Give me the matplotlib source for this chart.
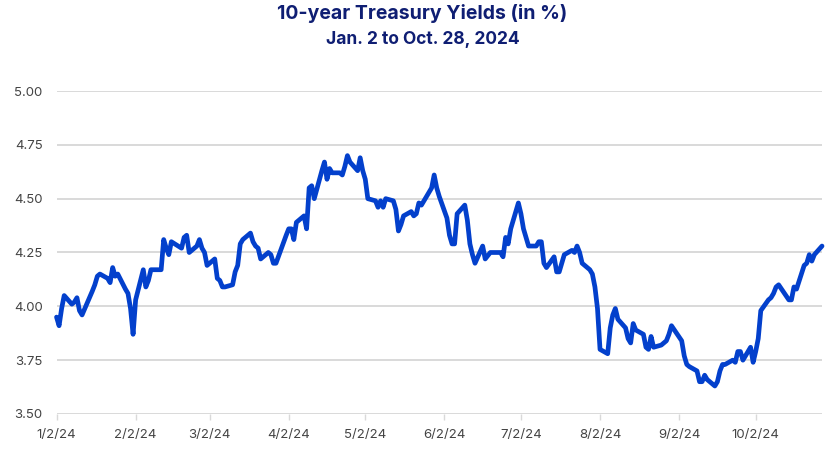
import numpy as np
import matplotlib
import matplotlib.pyplot as plt

matplotlib.use('Agg')

# ── Data: 10-year Treasury yield, trading days 2024 ─────────────────────────
dates = [
    '2024-01-02', '2024-01-03', '2024-01-04', '2024-01-05', '2024-01-08', '2024-01-09',
    '2024-01-10', '2024-01-11', '2024-01-12', '2024-01-16', '2024-01-17', '2024-01-18',
    '2024-01-19', '2024-01-22', '2024-01-23', '2024-01-24', '2024-01-25', '2024-01-26',
    '2024-01-29', '2024-01-30', '2024-01-31', '2024-02-01', '2024-02-02', '2024-02-05',
    '2024-02-06', '2024-02-07', '2024-02-08', '2024-02-09', '2024-02-12', '2024-02-13',
    '2024-02-14', '2024-02-15', '2024-02-16', '2024-02-20', '2024-02-21', '2024-02-22',
    '2024-02-23', '2024-02-26', '2024-02-27', '2024-02-28', '2024-02-29', '2024-03-01',
    '2024-03-04', '2024-03-05', '2024-03-06', '2024-03-07', '2024-03-08', '2024-03-11',
    '2024-03-12', '2024-03-13', '2024-03-14', '2024-03-15', '2024-03-18', '2024-03-19',
    '2024-03-20', '2024-03-21', '2024-03-22', '2024-03-25', '2024-03-26', '2024-03-27',
    '2024-03-28', '2024-04-01', '2024-04-02', '2024-04-03', '2024-04-04', '2024-04-05',
    '2024-04-08', '2024-04-09', '2024-04-10', '2024-04-11', '2024-04-12', '2024-04-15',
    '2024-04-16', '2024-04-17', '2024-04-18', '2024-04-19', '2024-04-22', '2024-04-23',
    '2024-04-24', '2024-04-25', '2024-04-26', '2024-04-29', '2024-04-30', '2024-05-01',
    '2024-05-02', '2024-05-03', '2024-05-06', '2024-05-07', '2024-05-08', '2024-05-09',
    '2024-05-10', '2024-05-13', '2024-05-14', '2024-05-15', '2024-05-16', '2024-05-17',
    '2024-05-20', '2024-05-21', '2024-05-22', '2024-05-23', '2024-05-24', '2024-05-28',
    '2024-05-29', '2024-05-30', '2024-05-31', '2024-06-03', '2024-06-04', '2024-06-05',
    '2024-06-06', '2024-06-07', '2024-06-10', '2024-06-11', '2024-06-12', '2024-06-13',
    '2024-06-14', '2024-06-17', '2024-06-18', '2024-06-20', '2024-06-21', '2024-06-24',
    '2024-06-25', '2024-06-26', '2024-06-27', '2024-06-28', '2024-07-01', '2024-07-02',
    '2024-07-03', '2024-07-05', '2024-07-08', '2024-07-09', '2024-07-10', '2024-07-11',
    '2024-07-12', '2024-07-15', '2024-07-16', '2024-07-17', '2024-07-18', '2024-07-19',
    '2024-07-22', '2024-07-23', '2024-07-24', '2024-07-25', '2024-07-26', '2024-07-29',
    '2024-07-30', '2024-07-31', '2024-08-01', '2024-08-02', '2024-08-05', '2024-08-06',
    '2024-08-07', '2024-08-08', '2024-08-09', '2024-08-12', '2024-08-13', '2024-08-14',
    '2024-08-15', '2024-08-16', '2024-08-19', '2024-08-20', '2024-08-21', '2024-08-22',
    '2024-08-23', '2024-08-26', '2024-08-27', '2024-08-28', '2024-08-29', '2024-08-30',
    '2024-09-03', '2024-09-04', '2024-09-05', '2024-09-06', '2024-09-09', '2024-09-10',
    '2024-09-11', '2024-09-12', '2024-09-13', '2024-09-16', '2024-09-17', '2024-09-18',
    '2024-09-19', '2024-09-20', '2024-09-23', '2024-09-24', '2024-09-25', '2024-09-26',
    '2024-09-27', '2024-09-30', '2024-10-01', '2024-10-02', '2024-10-03', '2024-10-04',
    '2024-10-07', '2024-10-08', '2024-10-09', '2024-10-10', '2024-10-11', '2024-10-15',
    '2024-10-16', '2024-10-17', '2024-10-18', '2024-10-21', '2024-10-22', '2024-10-23',
    '2024-10-24', '2024-10-25', '2024-10-28',
]
yields = [
    3.95, 3.91, 3.99, 4.05, 4.01, 4.02,
    4.04, 3.98, 3.96, 4.07, 4.10, 4.14,
    4.15, 4.13, 4.11, 4.18, 4.14, 4.15,
    4.08, 4.06, 3.99, 3.87, 4.03, 4.17,
    4.09, 4.12, 4.17, 4.17, 4.17, 4.31,
    4.27, 4.24, 4.30, 4.27, 4.32, 4.33,
    4.25, 4.28, 4.31, 4.27, 4.25, 4.19,
    4.22, 4.13, 4.12, 4.09, 4.09, 4.10,
    4.16, 4.19, 4.29, 4.31, 4.34, 4.30,
    4.28, 4.27, 4.22, 4.25, 4.24, 4.20,
    4.20, 4.33, 4.36, 4.36, 4.31, 4.39,
    4.42, 4.36, 4.55, 4.56, 4.50, 4.63,
    4.67, 4.59, 4.64, 4.62, 4.62, 4.61,
    4.65, 4.70, 4.67, 4.63, 4.69, 4.63,
    4.59, 4.50, 4.49, 4.46, 4.49, 4.46,
    4.50, 4.49, 4.45, 4.35, 4.38, 4.42,
    4.44, 4.42, 4.43, 4.48, 4.47, 4.55,
    4.61, 4.55, 4.51, 4.41, 4.33, 4.29,
    4.29, 4.43, 4.47, 4.40, 4.29, 4.24,
    4.20, 4.28, 4.22, 4.25, 4.25, 4.25,
    4.23, 4.32, 4.29, 4.36, 4.48, 4.43,
    4.36, 4.28, 4.28, 4.30, 4.30, 4.20,
    4.18, 4.23, 4.16, 4.16, 4.20, 4.24,
    4.26, 4.25, 4.28, 4.25, 4.20, 4.17,
    4.15, 4.09, 3.99, 3.80, 3.78, 3.90,
    3.96, 3.99, 3.94, 3.90, 3.85, 3.83,
    3.92, 3.89, 3.87, 3.81, 3.80, 3.86,
    3.81, 3.82, 3.83, 3.84, 3.87, 3.91,
    3.84, 3.77, 3.73, 3.72, 3.70, 3.65,
    3.65, 3.68, 3.66, 3.63, 3.65, 3.70,
    3.73, 3.73, 3.75, 3.74, 3.79, 3.79,
    3.75, 3.81, 3.74, 3.79, 3.85, 3.98,
    4.03, 4.04, 4.06, 4.09, 4.10, 4.03,
    4.03, 4.09, 4.08, 4.19, 4.20, 4.24,
    4.21, 4.24, 4.28,
]
tick_dates = ['2024-01-02', '2024-02-02', '2024-03-02', '2024-04-02', '2024-05-02',
              '2024-06-02', '2024-07-02', '2024-08-02', '2024-09-02', '2024-10-02']
tick_labels = ['1/2/24', '2/2/24', '3/2/24', '4/2/24', '5/2/24',
               '6/2/24', '7/2/24', '8/2/24', '9/2/24', '10/2/24']
y_ticks = [3.50, 3.75, 4.00, 4.25, 4.50, 4.75, 5.00]

# ── Style ───────────────────────────────────────────────────────────────────
LINE = '#0340CC'
NAVY = '#0F1E73'
GRID = '#D9D9D9'
TICK = '#444444'
plt.rcParams['font.family'] = ['Inter', 'DejaVu Sans']

x = np.array(dates, dtype='datetime64[D]')
xt = np.array(tick_dates, dtype='datetime64[D]')

fig = plt.figure(figsize=(8.4, 4.72), dpi=100)
ax = fig.add_axes([0.0673, 0.1229, 0.9113, 0.6843])

ax.plot(x, yields, color=LINE, linewidth=3.4, solid_joinstyle='round',
        solid_capstyle='round', zorder=3, clip_on=False)

ax.set_xlim(x[0], np.datetime64('2024-10-28'))
ax.set_ylim(3.5, 5.0)
ax.set_yticks(y_ticks)
ax.set_yticklabels([f'{v:.2f}' for v in y_ticks], fontsize=9.5, color=TICK)
ax.set_xticks(xt)
ax.set_xticklabels(tick_labels, fontsize=9.5, color=TICK)
ax.grid(axis='y', color=GRID, linewidth=1.4, zorder=1)
ax.grid(axis='x', visible=False)
for s in ax.spines.values():
    s.set_visible(False)
ax.tick_params(axis='y', length=0, pad=10)
ax.tick_params(axis='x', length=4, width=1, color=GRID, pad=7)

fig.text(0.503, 0.9597, '10-year Treasury Yields (in %)', ha='center', va='baseline',
         fontsize=14, fontweight='bold', color=NAVY)
fig.text(0.503, 0.9068, 'Jan. 2 to Oct. 28, 2024', ha='center', va='baseline',
         fontsize=12.5, fontweight='bold', color=NAVY)

fig.savefig('out.png', dpi=100)
